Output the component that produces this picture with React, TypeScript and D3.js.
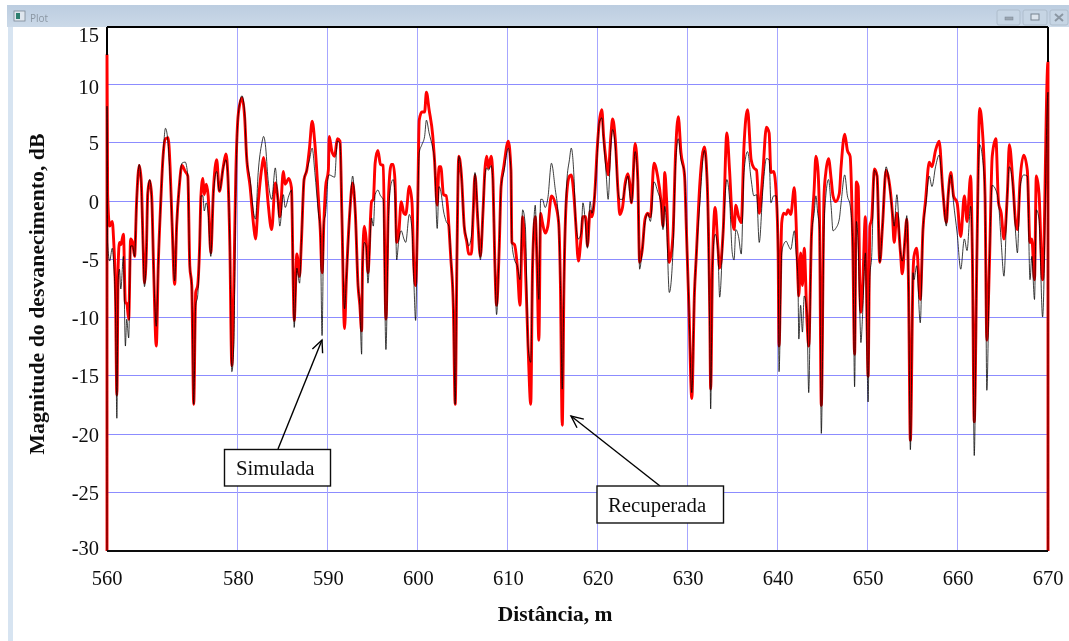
import React from "react";
import * as d3 from "d3";

const yTicks = [15, 10, 5, 0, -5, -10, -15, -20, -25, -30];
const xTicks = [560, 580, 590, 600, 610, 620, 630, 640, 650, 660, 670];

const distancia = [
  560,560,560.1,560.4,560.8,561,561.3,561.5,561.7,561.9,
  562.1,562.5,562.8,563,563.3,563.6,563.9,564.2,564.5,564.9,
  565.2,565.5,565.7,566,566.2,566.5,566.8,567.1,567.5,567.8,
  568.2,568.5,568.9,569.3,569.6,569.9,570.3,570.6,571,571.4,
  571.9,572.3,572.6,572.9,573.2,573.5,573.8,574.1,574.3,574.6,
  574.8,575.1,575.4,575.8,576.2,576.7,577.1,577.7,578.1,578.4,
  578.7,579,579.3,579.6,580,580.4,580.7,580.9,581.3,581.7,
  581.9,582.2,582.6,582.8,583,583.3,583.7,584.1,584.4,584.6,
  585,585.2,585.6,585.9,586.1,586.2,586.5,586.8,587,587.3,
  587.6,587.9,588.2,588.5,588.9,589.1,589.3,589.5,589.7,590,
  590.1,590.4,590.7,591,591.3,591.5,591.8,592,592.4,592.7,
  593,593.3,593.5,593.7,593.8,594,594.2,594.4,594.8,595,
  595.2,595.5,595.8,596.1,596.4,596.7,597,597.2,597.4,597.6,
  597.8,598.1,598.4,598.6,599,599.3,599.5,599.7,599.9,600.1,
  600.4,600.7,600.9,601.2,601.6,601.8,602.1,602.3,602.5,602.8,
  603.1,603.4,603.6,603.9,604.1,604.3,604.5,604.8,605.1,605.4,
  605.6,605.9,606.1,606.3,606.6,606.9,607.2,607.4,607.6,607.8,
  608.1,608.3,608.5,608.7,609,609.2,609.5,610,610.3,610.4,
  610.7,611,611.3,611.6,611.9,612.2,612.5,612.7,613,613.2,
  613.4,613.6,613.8,614.1,614.4,614.8,615.2,615.6,615.8,616,
  616.2,616.5,616.8,617,617.3,617.5,617.8,618.1,618.3,618.6,
  618.8,619.1,619.3,619.6,619.9,620.1,620.4,620.6,620.9,621.1,
  621.4,621.6,621.9,622.2,622.4,622.7,623,623.3,623.5,623.7,
  624.1,624.4,624.6,624.9,625.2,625.5,625.8,626.2,626.6,627,
  627.2,627.4,627.6,627.9,628.3,628.6,628.9,629.2,629.6,629.8,
  630.1,630.4,630.7,630.9,631.3,631.8,632.1,632.4,632.5,632.7,
  633,633.3,633.5,633.9,634.3,634.6,634.9,635.1,635.3,635.6,
  635.9,636.2,636.6,637,637.3,637.6,637.9,638.3,638.7,639,
  639.2,639.5,639.8,640,640.1,640.4,640.6,640.9,641.1,641.4,
  641.8,642,642.2,642.3,642.5,642.7,642.9,643.2,643.4,643.7,
  644,644.2,644.4,644.6,644.8,645.1,645.3,645.6,645.9,646.1,
  646.4,646.8,647,647.4,647.7,648,648.3,648.5,648.7,648.9,
  649.1,649.2,649.4,649.7,649.9,650,650.2,650.4,650.7,651,
  651.3,651.6,652,652.3,652.7,652.9,653.2,653.6,653.8,654.1,
  654.3,654.5,654.7,655,655.1,655.4,655.8,656.1,656.4,656.8,
  657.1,657.5,657.9,658.3,658.7,658.9,659.2,659.5,659.9,660.3,
  660.7,661,661.4,661.6,661.8,662.1,662.4,662.7,663,663.2,
  663.5,663.8,664.2,664.5,664.8,665.1,665.5,665.7,666.1,666.4,
  666.6,666.9,667.3,667.7,668,668.2,668.5,668.7,669,669.4,
  670,670,
];

const simulada = [
  -30,8.2,-3.5,-5.1,-4,-5.2,-9.5,-18.6,-6.7,-5.8,
  -7.5,-4.7,-12.4,-10.1,-11.7,-3.8,-3.8,-4.7,-0.1,3.2,
  1.6,-4.4,-7.3,-4.4,0.7,1.9,0.2,-5.8,-10.7,-5.5,
  0.2,3.6,6.3,5,2.2,-1.8,-6.8,-2.1,1.3,3.3,
  3.4,2.2,-5.5,-7.2,-17.4,-8.9,-8.1,-3.8,0.5,0.5,
  -0.8,-0.1,-1,-4.7,0.7,2.6,0.9,2.9,3.6,2.2,
  -3.8,-14.6,-12.4,0.7,7.6,9.1,7.6,4,1.9,-1,
  -1.5,2.5,5,5.6,4.9,1.9,0.2,2.9,-0.1,-2.1,
  0.6,-0.5,0.5,1,-7.2,-10.8,-5.7,-7,-3.5,1.9,
  2.7,3.6,4.6,2.5,-1,-2.4,-11.5,-1.8,-1,2.2,
  2.3,2.2,2.1,5.2,5,-1,-9.2,-6.7,-0.7,2.2,
  -1,-7.2,-8.9,-13.1,-5.5,-3.5,-3.8,-7,-1.4,-2.1,
  0.6,1,0.5,0.2,-12.7,-1,1.6,1.9,0.7,-5,
  -3.5,-2.5,-3.2,-3.5,-1.1,-2.4,-6.7,-10.2,-2.1,4.2,
  4.9,5.6,7,5.9,4.6,3.6,-2.3,1.3,0.9,-0.8,
  -1.7,-2.1,-4.7,-9.2,-17.4,-4.4,3.9,2.2,-2.1,-3.2,
  -3.8,-3,-1,2.5,-1,-5,-0.7,2.2,2.9,2.7,
  3.1,1.6,-5,-9.7,-3.8,1.3,2.5,4.6,2.7,-3.5,
  -5,-5.5,-6.7,-0.7,-2.1,-12.4,-13.8,-5.5,-0.3,-5.1,
  -8.4,0.2,0.2,-0.5,0.3,3.3,1.2,-1.8,-7.2,-16.1,
  -6.7,1.6,3.6,4.6,2.2,-1.8,-3.2,-2.7,-0.1,-2.1,
  -4,0,-1,0.5,4.2,6.7,7.2,5.3,2.2,0.2,
  4.7,6.2,4.7,0.9,0.2,0.2,1.3,2.2,0.7,-0.1,
  4.3,1.9,-5.8,-4.1,-1.8,-1,-1.7,1.7,0.9,-0.3,
  -2.4,-0.4,-2.1,-7.8,-4.4,3.3,5.4,3.6,2.5,-2.4,
  -9.5,-16.4,-7.8,-4.7,-0.1,4.4,1.9,-11.8,-17.8,-5.5,
  -2.8,-4.1,-8.2,-2.4,1.9,0.2,-4.4,-5,-2.4,-3,
  -4.5,2.5,4.3,1.9,0.5,0.6,-3.5,1,3.7,3.6,
  -0.1,0.5,0.5,-4.4,-14.6,-4.4,-3.7,-3.4,-3.7,-4.1,
  -2.5,-4.4,-6.7,-11.8,-8.9,-11.2,-8.1,-9.5,-16.4,-3,
  -1,0.5,-1,-2.4,-19.9,-2.4,0.5,1.9,-0.5,-2.5,
  -2.3,-1.5,-0.1,2.3,0.5,-0.3,-3.8,-15.9,-1.7,-3.8,
  -10.1,-12.1,-9.5,-4.4,-14.1,-17.2,-6.4,-4.7,2.7,2.2,
  -5.2,-2.1,3,1.9,-1,-2.1,0.6,-4.4,-5.1,-3.2,
  -1.2,-7.5,-21.3,-6.1,-6.7,-5.5,-10.4,-2.4,-0.4,2.2,
  1.3,3,4,1,-2.1,0.5,2.3,-0.1,-2.7,-5.8,
  -3.2,-4.2,-0.4,-5,-21.8,-4.4,4.9,3.9,0.5,-16.2,
  -5,1.4,1,-0.1,-3.5,-6.4,1,3,1.3,-2.7,
  -4.4,1.3,2.3,2.2,-6.7,-4.7,-8.4,-0.7,-1.5,-9.9,
  9.4,-30,
];

const recuperada = [
  -30,12.6,0.6,-2.1,-1.7,-3.2,-8.1,-16.6,-5.5,-3.5,
  -3.7,-2.8,-8.7,-8.7,-10.1,-3.2,-3.5,-4.7,-0.1,3.1,
  1.9,-3.8,-7,-4.1,0.7,1.8,0.5,-5.8,-12.4,-5.5,
  0.2,3.6,5.4,5.5,3,-1.8,-7.1,-2.1,1.3,3.1,
  2.6,2.2,-5.5,-7.2,-17.4,-7.8,-7.2,-3.8,0.5,2,
  0.6,1.5,0.5,-4.4,1,3.6,0.9,3,4.1,2.2,
  -3.8,-14.1,-7.2,2.2,7.6,8.9,7.2,4,1.3,-2.1,
  -3.2,-0.1,2.9,3.8,2.7,-0.1,-2.4,1.6,0.2,-1.3,
  2.6,1.5,2,1.2,-7.2,-10.2,-4.5,-6.4,-3.5,1.9,
  2.7,4.6,6.9,5,0.2,-2.4,-6.1,-1.8,1.3,2.7,
  5.6,4.3,3.9,5.4,5.2,-1,-10.9,-6.7,-0.7,1.6,
  -1,-7.2,-8.9,-11.1,-5.5,-2.1,-3.2,-6.1,0,0.2,
  3.3,4.4,3.2,3.1,-10.1,0.7,3.2,3.2,1.9,-3.5,
  -3,0,-1,-1.1,1.3,-0.1,-5.5,-7.2,-2.1,7,
  7.7,7.7,9.4,7.9,5.7,3.6,-0.3,3,3,0.6,
  0.5,-2.1,-4.7,-9.2,-17.4,-4.4,3.9,2.2,-2.1,-3.5,
  -4.5,-4.5,-1,2.3,-1.5,-4.7,-0.7,2.7,3.9,2.9,
  3.9,1.9,-5,-8.9,-3.8,1.3,3,5.2,2.7,-3.5,
  -3.7,-5.5,-8.9,-1.3,-5.5,-12.4,-17.4,-5.5,-1.3,-5.5,
  -11.9,-1,-1.8,-2.7,-2.1,0.5,-0.1,-1.8,-7.2,-19.2,
  -6.7,0.7,2.2,2.3,0.5,-1.8,-5.1,-3,-1.3,-1.3,
  -3.8,-0.8,-1.3,0.5,4.7,6.7,7.9,5.6,3.3,2.3,
  5.6,7.1,5.3,0.9,-1.1,-0.5,1.6,2.4,1.6,-0.1,
  5,1.9,-5.2,-4.1,-1.5,-1,-1.3,3.3,2.2,-0.1,
  -2.1,2.5,0.2,-5.2,-3,4.2,7.3,4.2,2.2,-2.4,
  -9.5,-16.9,-7.8,-4.7,1.6,4.7,1.9,-9.5,-16.1,-5.5,
  -0.5,-3.8,-5.7,-2.4,5.9,2.7,-1.5,-2.4,-0.3,-1.3,
  -1.8,4.7,7.9,3.6,2.9,2.7,-1,2.5,6.4,5.9,
  2.5,2.6,0.5,-4.4,-12.4,-1.8,-1,-1.1,-0.7,-1.1,
  1.2,-1.8,-6.7,-8.1,-4.4,-7.2,-4,-10.1,-12.4,-3,
  1,3.9,3,-1.5,-17.5,0.5,2.5,3.7,1.9,0.5,
  0,0.7,3,5.8,4.4,3.9,-3.8,-13.1,1.7,1.3,
  -8.1,-9.5,-7.2,-1.3,-11.2,-15,-2.1,-1.5,2.8,2.2,
  -5.2,-2.1,2.7,1.9,-1,-3.5,-1,-4.4,-6.2,-3.2,
  -1.5,-7.5,-20.5,-6.1,-4.7,-4,-8.4,-2.4,0.2,3.4,
  3,4.4,5.2,1,-1.8,0.5,2.5,0.5,-0.1,-3,
  0.5,-1.7,2.2,-5,-18.9,-4.4,8,6.2,0.5,-11.9,
  -5,3.9,5.4,-0.1,-1,-3.2,1,4.9,1.6,-1.8,
  -2.4,1.9,4,2.7,-3.5,-3.2,-6.7,2.2,0.7,-6.7,
  12,-30,
];

const SERIF = "'Liberation Serif', serif";
const SANS = "'Open Sans', 'Liberation Sans', sans-serif";

const x = d3.scaleLinear().domain([560, 580, 670]).range([107, 238.4, 1048]);
const y = d3.scaleLinear().domain([-30, 15]).range([551, 27]);

const lineOf = (values: number[]) =>
  d3
    .line<number>()
    .x((_, i) => x(distancia[i]))
    .y((v) => y(v))
    .curve(d3.curveMonotoneX)(values) || "";

const yLabelNudge = (t: number) => (t === 15 ? 8 : t === 10 ? 2 : t === -30 ? -3 : 0);
const snap = (v: number) => Math.round(v) - 0.5;

const winBtns = [
  { x: 997, w: 23, glyph: "min" },
  { x: 1023, w: 24, glyph: "max" },
  { x: 1050, w: 18, glyph: "close" },
];

export default function App() {
  return (
    <svg
      width={1069}
      height={641}
      viewBox="0 0 1069 641"
      style={{ position: "absolute", left: 0, top: 0, display: "block" }}
    >
      <defs>
        <linearGradient id="bar" x1="0" x2="0" y1="0" y2="1">
          <stop offset="0" stopColor="#bccde0" />
          <stop offset="1" stopColor="#cbd9e8" />
        </linearGradient>
        <marker id="head" viewBox="-14 -7 16 14" refX="0" refY="0" markerWidth="16" markerHeight="14" markerUnits="userSpaceOnUse" orient="auto">
          <path d="M-12,-5.5 L0,0 L-12,5.5" fill="none" stroke="#000" strokeWidth="1.4" />
        </marker>
        <filter id="soft" x="0" y="0" width="100%" height="100%">
          <feGaussianBlur stdDeviation="0.35" />
        </filter>
      </defs>
      <rect x={0} y={0} width={1069} height={641} fill="#fff" />

      <g filter="url(#soft)">
        {/* window frame */}
        <rect x={7} y={5} width={1062} height={22} fill="url(#bar)" />
        <rect x={8} y={27} width={5} height={614} fill="#d7e4f1" />
        <rect x={14} y={11} width={11} height={10} fill="#dfe6ee" stroke="#7b8794" strokeWidth={0.8} />
        <rect x={16} y={13} width={4} height={6} fill="#2f7f6f" />
        <text x={30} y={22} fontFamily={SANS} fontSize={10} fill="#8b97a3">Plot</text>
        {winBtns.map((b) => (
          <g key={b.glyph}>
            <rect x={b.x} y={10} width={b.w} height={15} rx={2} fill="#c6d5e4" stroke="#aebdcc" strokeWidth={1} />
            {b.glyph === "min" && <rect x={b.x + 8} y={17} width={8} height={3} fill="#9aa6b2" stroke="#77838f" strokeWidth={0.5} />}
            {b.glyph === "max" && <rect x={b.x + 8} y={14} width={8} height={6} fill="#dde5ed" stroke="#77838f" strokeWidth={1} />}
            {b.glyph === "close" && (
              <path d={`M${b.x + 5},14 L${b.x + 13},21 M${b.x + 13},14 L${b.x + 5},21`} stroke="#8b97a3" strokeWidth={2} />
            )}
          </g>
        ))}

        {/* grid */}
        <g strokeWidth={1} fill="none" shapeRendering="crispEdges">
          {yTicks.slice(1, -1).map((t) => (
            <line key={t} stroke="#8c8cff" x1={x(560)} x2={x(670)} y1={snap(y(t))} y2={snap(y(t))} />
          ))}
          {xTicks.slice(1, -1).map((t) => (
            <line key={t} stroke="#a6a6ff" x1={snap(x(t))} x2={snap(x(t))} y1={y(15)} y2={y(-30)} />
          ))}
        </g>

        {/* series */}
        <path d={lineOf(recuperada)} fill="none" stroke="#ff0000" strokeWidth={2.9} strokeLinejoin="round" />
        <path d={lineOf(simulada)} fill="none" stroke="#000" strokeWidth={0.9} strokeOpacity={0.85} strokeLinejoin="round" />

        {/* plot frame */}
        <path d={`M${x(560)},${y(15)} H${x(670)}`} stroke="#000" strokeWidth={2} fill="none" />
        <path d={`M${x(560)},${y(-30)} H${x(670)}`} stroke="#111" strokeWidth={2} fill="none" />
        <path d={`M${x(560)},${y(15)} V${y(12.6)}`} stroke="#000" strokeWidth={2} fill="none" />
        <path d={`M${x(670)},${y(15)} V${y(12)}`} stroke="#000" strokeWidth={2} fill="none" />

        {/* tick labels */}
        <g fontFamily={SERIF} fontSize={20.5} fill="#111">
          {yTicks.map((t) => (
            <text key={t} x={99} y={y(t) + yLabelNudge(t)} textAnchor="end" dominantBaseline="central">{t}</text>
          ))}
          {xTicks.map((t) => (
            <text key={t} x={x(t)} y={585} textAnchor="middle">{t}</text>
          ))}
        </g>

        {/* axis titles */}
        <text x={555} y={621} textAnchor="middle" fontFamily={SERIF} fontWeight="bold" fontSize={21.5} fill="#111">Distância, m</text>
        <text
          transform="translate(44,294) rotate(-90)"
          textAnchor="middle"
          fontFamily={SERIF}
          fontWeight="bold"
          fontSize={21.8}
          fill="#111"
        >
          Magnitude do desvanecimento, dB
        </text>

        {/* annotations */}
        <line x1={278} y1={449} x2={322} y2={340} stroke="#000" strokeWidth={1.4} markerEnd="url(#head)" />
        <line x1={660} y1={486} x2={571} y2={416} stroke="#000" strokeWidth={1.4} markerEnd="url(#head)" />
        <rect x={224.5} y={449.5} width={106} height={36.5} fill="#fff" stroke="#111" strokeWidth={1.4} />
        <text x={236} y={475} fontFamily={SERIF} fontSize={20.8} fill="#111">Simulada</text>
        <rect x={597} y={486} width={126.5} height={37} fill="#fff" stroke="#111" strokeWidth={1.4} />
        <text x={608} y={512} fontFamily={SERIF} fontSize={20.8} fill="#111">Recuperada</text>
      </g>
    </svg>
  );
}
